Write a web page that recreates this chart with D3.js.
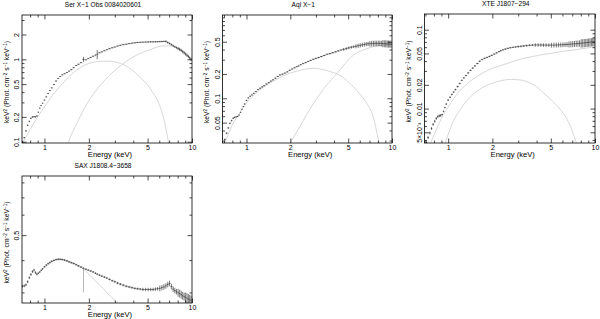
<!DOCTYPE html>
<html>
<head>
<meta charset="utf-8">
<script src="https://cdn.jsdelivr.net/npm/d3@7"></script>
<style>
  body { margin: 0; background: #fff; }
  svg { display: block; font-family: "Liberation Sans", Arial, sans-serif; }
</style>
</head>
<body>
<div id="chart"></div>
<script>
// energy bin centres (keV), shared by all four spectra
const energyBins = [0.71, 0.73, 0.75, 0.77, 0.79, 0.81, 0.83, 0.85, 0.87, 0.89, 0.91, 0.93, 0.95, 0.97,
    1.00, 1.03, 1.06, 1.09, 1.12, 1.16, 1.20, 1.24, 1.28, 1.32, 1.37, 1.42, 1.47, 1.52, 1.58, 1.64, 1.70,
    1.77, 1.84, 1.91, 1.98, 2.06, 2.14, 2.22, 2.28, 2.36, 2.45, 2.55, 2.65, 2.76, 2.88, 3.00, 3.13, 3.27,
    3.42, 3.58, 3.75, 3.92, 4.10, 4.28, 4.46, 4.65, 4.85, 5.05, 5.25, 5.45, 5.65, 5.85, 6.05, 6.25, 6.45,
    6.65, 6.85, 7.05, 7.25, 7.45, 7.65, 7.85, 8.05, 8.25, 8.45, 8.65, 8.85, 9.05, 9.25, 9.45, 9.65, 9.85];

// ---- Ser X-1 ----
const serFlux = [0.100, 0.112, 0.135, 0.158, 0.176, 0.192, 0.200, 0.201, 0.200, 0.205, 0.228, 0.255, 0.275, 0.293,
    0.320, 0.350, 0.385, 0.418, 0.450, 0.495, 0.545, 0.585, 0.618, 0.648, 0.668, 0.690, 0.718, 0.748, 0.790, 0.840, 0.872,
    0.910, 1.000, 0.985, 1.020, 1.055, 1.090, 1.125, 1.150, 1.200, 1.230, 1.270, 1.310, 1.345, 1.380, 1.410, 1.450, 1.480,
    1.505, 1.525, 1.550, 1.570, 1.585, 1.600, 1.610, 1.615, 1.620, 1.625, 1.630, 1.630, 1.632, 1.635, 1.640, 1.645, 1.650,
    1.650, 1.600, 1.555, 1.510, 1.465, 1.420, 1.385, 1.350, 1.320, 1.285, 1.240, 1.200, 1.160, 1.120, 1.080, 1.040, 1.000];
const serErrBands = [[0.7, 0.02], [0.9, 0.012], [3.5, 0.015], [5.0, 0.02], [6.5, 0.03], [8.0, 0.045]];
const serWideErr = [[1.84, 0.07], [2.28, 0.13]];
const serSoftE = [0.72, 0.80, 0.90, 1.00, 1.10, 1.25, 1.42, 1.65, 2.00, 2.30, 2.66, 3.00, 3.28, 3.70, 4.05, 4.50, 5.00, 5.40, 5.83, 6.20, 6.47, 6.82, 7.00];
const serSoftF = [0.10, 0.14, 0.20, 0.265, 0.34, 0.45, 0.58, 0.74, 0.89, 0.94, 0.95, 0.93, 0.89, 0.80, 0.71, 0.59, 0.49, 0.40, 0.32, 0.24, 0.183, 0.115, 0.09];
const serHardE = [1.42, 1.46, 1.66, 1.95, 2.40, 3.12, 4.05, 5.25, 6.47, 7.20, 8.00, 9.00, 10.0];
const serHardF = [0.085, 0.10, 0.167, 0.292, 0.488, 0.778, 1.08, 1.32, 1.46, 1.45, 1.36, 1.18, 0.98];

// ---- Aql X-1 ----
const aqlFlux = [0.031, 0.037, 0.043, 0.049, 0.053, 0.0566, 0.058, 0.059, 0.0595, 0.062, 0.067, 0.073, 0.079, 0.085,
    0.094, 0.101, 0.106, 0.110, 0.115, 0.121, 0.128, 0.133, 0.138, 0.143, 0.150, 0.156, 0.163, 0.169, 0.177, 0.186, 0.194,
    0.199, 0.205, 0.212, 0.222, 0.230, 0.238, 0.246, 0.251, 0.260, 0.268, 0.276, 0.285, 0.294, 0.303, 0.311, 0.319, 0.328,
    0.338, 0.350, 0.357, 0.366, 0.375, 0.385, 0.395, 0.403, 0.411, 0.420, 0.428, 0.434, 0.440, 0.446, 0.452, 0.458, 0.463,
    0.468, 0.471, 0.473, 0.475, 0.476, 0.477, 0.477, 0.477, 0.477, 0.476, 0.475, 0.474, 0.473, 0.471, 0.470, 0.469, 0.468];
const aqlErrBands = [[0.7, 0.025], [0.85, 0.015], [3.0, 0.02], [4.5, 0.04], [5.5, 0.06], [7.0, 0.08], [8.5, 0.10]];
const aqlSoftE = [0.70, 0.80, 0.90, 1.00, 1.20, 1.50, 2.00, 2.50, 2.87, 3.50, 4.10, 4.40, 5.00, 5.42, 6.00, 6.70, 7.43, 8.06, 8.30];
const aqlSoftF = [0.026, 0.047, 0.066, 0.088, 0.122, 0.160, 0.205, 0.228, 0.235, 0.222, 0.203, 0.192, 0.160, 0.139, 0.113, 0.087, 0.059, 0.031, 0.025];
const aqlHardE = [2.00, 2.33, 2.87, 3.55, 4.16, 5.42, 6.70, 8.28, 10.0];
const aqlHardF = [0.028, 0.045, 0.085, 0.145, 0.200, 0.340, 0.410, 0.450, 0.460];

// ---- XTE J1807-294 ----
const xteFlux = [0.0037, 0.0043, 0.0049, 0.0056, 0.0063, 0.0069, 0.0075, 0.0079, 0.0081, 0.0082, 0.0084, 0.0092, 0.0103, 0.0114,
    0.0128, 0.0139, 0.0151, 0.0162, 0.0174, 0.0190, 0.0208, 0.0228, 0.0245, 0.0262, 0.0283, 0.0305, 0.0326, 0.0347, 0.0372, 0.0398, 0.0418,
    0.0433, 0.0445, 0.0458, 0.0472, 0.0490, 0.0508, 0.0527, 0.0540, 0.0555, 0.0567, 0.0580, 0.0590, 0.0598, 0.0604, 0.0610, 0.0616, 0.0622,
    0.0628, 0.0634, 0.0638, 0.0640, 0.0640, 0.0640, 0.0639, 0.0638, 0.0637, 0.0637, 0.0638, 0.0639, 0.0641, 0.0643, 0.0645, 0.0647, 0.0650,
    0.0653, 0.0656, 0.0659, 0.0662, 0.0665, 0.0668, 0.0671, 0.0674, 0.0677, 0.0680, 0.0683, 0.0687, 0.0690, 0.0694, 0.0697, 0.0700, 0.0703];
const xteErrBands = [[0.7, 0.04], [0.9, 0.025], [1.2, 0.02], [3.0, 0.03], [3.8, 0.05], [5.0, 0.07], [6.5, 0.09], [8.0, 0.12]];
const xteHardE = [0.76, 0.80, 0.90, 1.00, 1.20, 1.35, 1.60, 2.00, 2.50, 2.95, 3.50, 4.20, 4.98, 6.00, 7.59, 8.80, 10.0];
const xteHardF = [0.0037, 0.0046, 0.0075, 0.0105, 0.0168, 0.0208, 0.0260, 0.0324, 0.0370, 0.0412, 0.0445, 0.0475, 0.0501, 0.0530, 0.0562, 0.0585, 0.0608];
const xteSoftE = [0.95, 1.00, 1.092, 1.20, 1.35, 1.55, 1.75, 2.00, 2.27, 2.66, 3.00, 3.45, 4.00, 4.49, 5.20, 5.83, 6.40, 6.82, 7.20, 7.50];
const xteSoftF = [0.0036, 0.0047, 0.0071, 0.0095, 0.0128, 0.0162, 0.0189, 0.0210, 0.0225, 0.0234, 0.0232, 0.0219, 0.0190, 0.0156, 0.0122, 0.0096, 0.0075, 0.0059, 0.0045, 0.0036];

// ---- SAX J1808.4-3658 ----
const saxFlux = [0.317, 0.318, 0.321, 0.330, 0.342, 0.352, 0.361, 0.366, 0.358, 0.353, 0.356, 0.360, 0.365, 0.370,
    0.377, 0.383, 0.388, 0.392, 0.396, 0.399, 0.402, 0.403, 0.403, 0.402, 0.400, 0.397, 0.394, 0.391, 0.388, 0.384, 0.380,
    0.376, 0.372, 0.369, 0.366, 0.363, 0.360, 0.356, 0.353, 0.350, 0.347, 0.344, 0.341, 0.337, 0.333, 0.330, 0.326, 0.323,
    0.320, 0.317, 0.315, 0.313, 0.311, 0.310, 0.309, 0.308, 0.308, 0.308, 0.308, 0.308, 0.309, 0.310, 0.311, 0.313, 0.315,
    0.318, 0.322, 0.325, 0.316, 0.309, 0.305, 0.302, 0.299, 0.297, 0.294, 0.291, 0.289, 0.287, 0.285, 0.283, 0.281, 0.279];
const saxErrBands = [[0.7, 0.012], [0.9, 0.008], [3.0, 0.01], [4.5, 0.015], [6.0, 0.025], [8.0, 0.035], [9.0, 0.045]];
const saxSoftE = [0.95, 1.00, 1.10, 1.25, 1.40, 1.60, 1.84, 2.05, 2.28, 2.50, 2.66, 2.85, 3.03, 3.20];
const saxSoftF = [0.366, 0.374, 0.390, 0.404, 0.400, 0.388, 0.370, 0.348, 0.327, 0.311, 0.298, 0.288, 0.278, 0.270];
const saxEdge = [[1.84, 0.372, 0.300]];

// ---- tick labels ----
const energyTicks = [1, 2, 5, 10];
const serYTicks = [0.1, 0.2, 0.5, 1, 2];
const aqlYTicks = [0.05, 0.1, 0.2, 0.5];
const xteYTicks = [0.005, 0.01, 0.02, 0.05, 0.1];
const saxYTicks = [0.5];

const width = 600, height = 319;
const svg = d3.select("#chart").append("svg")
    .attr("width", width)
    .attr("height", height)
    .attr("viewBox", [0, 0, width, height]);

const panels = [
    {id: 1, title: "Ser X\u22121 Obs 0084020601", box: [22, 192, 15, 143], xDom: [0.705, 10], yDom: [0.0964, 3.45],
     yTicks: serYTicks, F: serFlux, bands: serErrBands, wide: serWideErr, edges: [],
     comps: [[serSoftE, serSoftF], [serHardE, serHardF]]},
    {id: 2, title: "Aql X\u22121", box: [222.5, 392, 15, 143], xDom: [0.684, 10], yDom: [0.028, 1.07],
     yTicks: aqlYTicks, F: aqlFlux, bands: aqlErrBands, wide: [], edges: [],
     comps: [[aqlSoftE, aqlSoftF], [aqlHardE, aqlHardF]]},
    {id: 3, title: "XTE J1807\u2212294", box: [424.5, 595, 14, 143], xDom: [0.69, 10], yDom: [0.00366, 0.158],
     yTicks: xteYTicks, F: xteFlux, bands: xteErrBands, wide: [], edges: [],
     comps: [[xteHardE, xteHardF], [xteSoftE, xteSoftF]]},
    {id: 4, title: "SAX J1808.4\u22123658", box: [22, 192, 176, 303], xDom: [0.705, 10], yDom: [0.273, 0.847],
     yTicks: saxYTicks, F: saxFlux, bands: saxErrBands, wide: [], edges: saxEdge,
     comps: [[saxSoftE, saxSoftF]]}
];

function fmtY(v) {
    if (v < 0.01) return "5\u00d710\u207b\u00b3";
    return String(v);
}

function relErr(p, e) {
    const w = p.wide.find(d => Math.abs(d[0] - e) < 1e-6);
    if (w) return w[1];
    let r = p.bands[0][1];
    p.bands.forEach(b => { if (e >= b[0]) r = b[1]; });
    return r;
}

function drawPanel(p) {
    const [x0, x1, y0, y1] = p.box;
    const x = d3.scaleLog().domain(p.xDom).range([x0, x1]);
    const y = d3.scaleLog().domain(p.yDom).range([y1, y0]);
    const g = svg.append("g");
    const clipId = "clip" + p.id;

    svg.append("clipPath").attr("id", clipId)
        .append("rect")
        .attr("x", x0).attr("y", y0)
        .attr("width", x1 - x0).attr("height", y1 - y0);

    // model components
    const line = d3.line().x(d => x(d[0])).y(d => y(d[1])).curve(d3.curveMonotoneX);
    g.append("g")
        .attr("clip-path", `url(#${clipId})`)
        .selectAll("path")
        .data(p.comps)
        .join("path")
        .attr("d", c => line(d3.zip(c[0], c[1])))
        .attr("fill", "none")
        .attr("stroke", "#d2d2d2")
        .attr("stroke-width", 0.9);

    // data points: bin widths + error bars
    const E = energyBins, n = E.length;
    const pts = E.map((e, i) => ({
        e, f: p.F[i], r: relErr(p, e),
        lo: i === 0 ? e / Math.sqrt(E[1] / e) : Math.sqrt(E[i - 1] * e),
        hi: i === n - 1 ? e * Math.sqrt(e / E[n - 2]) : Math.sqrt(e * E[i + 1])
    }));
    const dg = g.append("g")
        .attr("clip-path", `url(#${clipId})`)
        .attr("stroke", "#222")
        .attr("stroke-width", 0.6);
    dg.selectAll("line.h").data(pts).join("line")
        .attr("class", "h")
        .attr("x1", d => x(d.lo)).attr("x2", d => x(d.hi))
        .attr("y1", d => y(d.f)).attr("y2", d => y(d.f));
    dg.selectAll("line.v").data(pts).join("line")
        .attr("class", "v")
        .attr("x1", d => x(d.e)).attr("x2", d => x(d.e))
        .attr("y1", d => y(d.f * (1 - d.r))).attr("y2", d => y(d.f * (1 + d.r)));
    dg.selectAll("line.edge").data(p.edges).join("line")
        .attr("class", "edge")
        .attr("stroke", "#888")
        .attr("x1", d => x(d[0])).attr("x2", d => x(d[0]))
        .attr("y1", d => y(d[1])).attr("y2", d => y(d[2]));

    // ticks on all four sides, pointing inward
    const xMinor = x.ticks().filter(v => !energyTicks.includes(v));
    const yMinor = y.ticks().filter(v => !p.yTicks.some(t => Math.abs(t - v) < v * 1e-6));
    const tickStyle = s => s.call(a => a.select(".domain").remove())
        .call(a => a.selectAll("line").attr("stroke", "#000").attr("stroke-width", 0.7));

    g.append("g").attr("transform", `translate(0,${y1})`)
        .call(d3.axisBottom(x).tickValues(xMinor).tickSize(-2.5).tickFormat(""))
        .call(tickStyle);
    g.append("g").attr("transform", `translate(0,${y1})`)
        .call(d3.axisBottom(x).tickValues(energyTicks).tickSize(-4.5).tickPadding(2).tickFormat(d3.format("d")))
        .call(tickStyle)
        .call(a => a.selectAll("text").attr("font-size", 7).attr("fill", "#000").attr("font-family", null));
    g.append("g").attr("transform", `translate(0,${y0})`)
        .call(d3.axisTop(x).tickValues(xMinor).tickSize(-2.5).tickFormat(""))
        .call(tickStyle);
    g.append("g").attr("transform", `translate(0,${y0})`)
        .call(d3.axisTop(x).tickValues(energyTicks).tickSize(-4.5).tickFormat(""))
        .call(tickStyle);

    g.append("g").attr("transform", `translate(${x0},0)`)
        .call(d3.axisLeft(y).tickValues(yMinor).tickSize(-2.5).tickFormat(""))
        .call(tickStyle);
    g.append("g").attr("transform", `translate(${x0},0)`)
        .call(d3.axisLeft(y).tickValues(p.yTicks).tickSize(-4.5).tickFormat(fmtY))
        .call(tickStyle)
        .call(a => a.selectAll("text")
            .attr("font-size", 7).attr("fill", "#000").attr("font-family", null)
            .attr("transform", "rotate(-90)")
            .attr("x", 0).attr("y", -3).attr("dy", null)
            .attr("text-anchor", "middle"));
    g.append("g").attr("transform", `translate(${x1},0)`)
        .call(d3.axisRight(y).tickValues(yMinor).tickSize(-2.5).tickFormat(""))
        .call(tickStyle);
    g.append("g").attr("transform", `translate(${x1},0)`)
        .call(d3.axisRight(y).tickValues(p.yTicks).tickSize(-4.5).tickFormat(""))
        .call(tickStyle);

    // frame
    g.append("rect")
        .attr("x", x0).attr("y", y0)
        .attr("width", x1 - x0).attr("height", y1 - y0)
        .attr("fill", "none")
        .attr("stroke", "#000")
        .attr("stroke-width", 0.8);

    // title and axis labels
    const cx = (x0 + x1) / 2;
    g.append("text")
        .attr("x", cx - 4).attr("y", y0 - 8)
        .attr("text-anchor", "middle")
        .attr("font-size", 6.6)
        .text(p.title);
    g.append("text")
        .attr("x", cx + 3).attr("y", y1 + 14)
        .attr("text-anchor", "middle")
        .attr("font-size", 7.6)
        .text("Energy (keV)");

    const yl = g.append("text")
        .attr("transform", `translate(${x0 - 13.5},${(y0 + y1) / 2 + 3}) rotate(-90)`)
        .attr("text-anchor", "middle")
        .attr("font-size", 6.8);
    const parts = [["keV", 0], ["2", 1], [" (Phot. cm", 0], ["\u22122", 1], [" s", 0], ["\u22121", 1], [" keV", 0], ["\u22121", 1], [")", 0]];
    parts.forEach(([t, sup]) => {
        const ts = yl.append("tspan").text(t);
        if (sup) ts.attr("font-size", 4.6).attr("baseline-shift", "super");
    });
}

panels.forEach(drawPanel);
</script>
</body>
</html>
